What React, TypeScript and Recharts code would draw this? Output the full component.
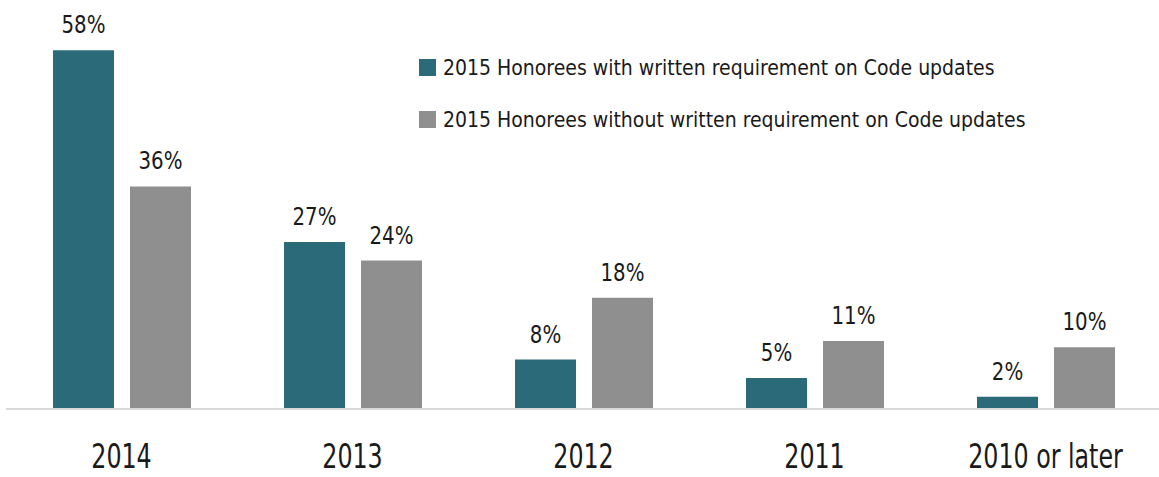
import React from "react";
import { BarChart, Bar, XAxis, YAxis, LabelList } from "recharts";

const categories = ["2014", "2013", "2012", "2011", "2010 or later"];
const withReq = [58, 27, 8, 5, 2];
const withoutReq = [36, 24, 18, 11, 10];
const seriesNames = [
  "2015 Honorees with written requirement on Code updates",
  "2015 Honorees without written requirement on Code updates",
];
const colors = ["#2b6a78", "#8f8f8f"];

const data = categories.map((c, i) => ({
  name: c,
  a: withReq[i],
  b: withoutReq[i],
}));

const FONT = "'DejaVu Sans Condensed', 'Liberation Sans Narrow', sans-serif";

const Tick = (props: any) => {
  const { x, y, payload } = props;
  return (
    <text
      transform={`translate(${x},${y + 51}) scale(0.8,1)`}
      x={0}
      y={0}
      textAnchor="middle"
      fontFamily={FONT}
      fontSize={33}
      fill="#1a1a1a"
    >
      {payload.value}
    </text>
  );
};

const ValueLabel = (props: any) => {
  const { x, y, width, value } = props;
  const cx = x + width / 2;
  return (
    <text
      transform={`translate(${cx},${y - 17}) scale(0.88,1)`}
      x={0}
      y={0}
      textAnchor="middle"
      fontFamily={FONT}
      fontSize={25}
      fill="#1a1a1a"
    >
      {`${value}%`}
    </text>
  );
};

const LegendBox = () => (
  <div style={{ position: "absolute", left: 419, top: 59, fontFamily: FONT, fontSize: 21, color: "#1a1a1a" }}>
    {seriesNames.map((n, i) => (
      <div key={n} style={{ display: "flex", alignItems: "center", height: 17, marginBottom: i === 0 ? 35 : 0, whiteSpace: "nowrap" }}>
        <span style={{ display: "inline-block", width: 17, height: 17, background: colors[i], marginRight: 7 }} />
        <span>{n}</span>
      </div>
    ))}
  </div>
);

export default function App() {
  return (
    <div style={{ position: "absolute", left: 0, top: 0, width: 1159, height: 477, background: "#fff" }}>
      <BarChart
        width={1159}
        height={477}
        data={data}
        margin={{ top: 38, right: -2, bottom: 0, left: 6 }}
        barSize={61}
        barGap={16}
      >
        <XAxis
          dataKey="name"
          tickLine={false}
          axisLine={{ stroke: "#d9d9d9", strokeWidth: 2 }}
          height={68}
          interval={0}
          tick={<Tick />}
        />
        <YAxis hide domain={[0, 60]} />
        <Bar dataKey="a" name={seriesNames[0]} fill={colors[0]} isAnimationActive={false}>
          <LabelList dataKey="a" content={<ValueLabel />} />
        </Bar>
        <Bar dataKey="b" name={seriesNames[1]} fill={colors[1]} isAnimationActive={false}>
          <LabelList dataKey="b" content={<ValueLabel />} />
        </Bar>
      </BarChart>
      <LegendBox />
    </div>
  );
}
